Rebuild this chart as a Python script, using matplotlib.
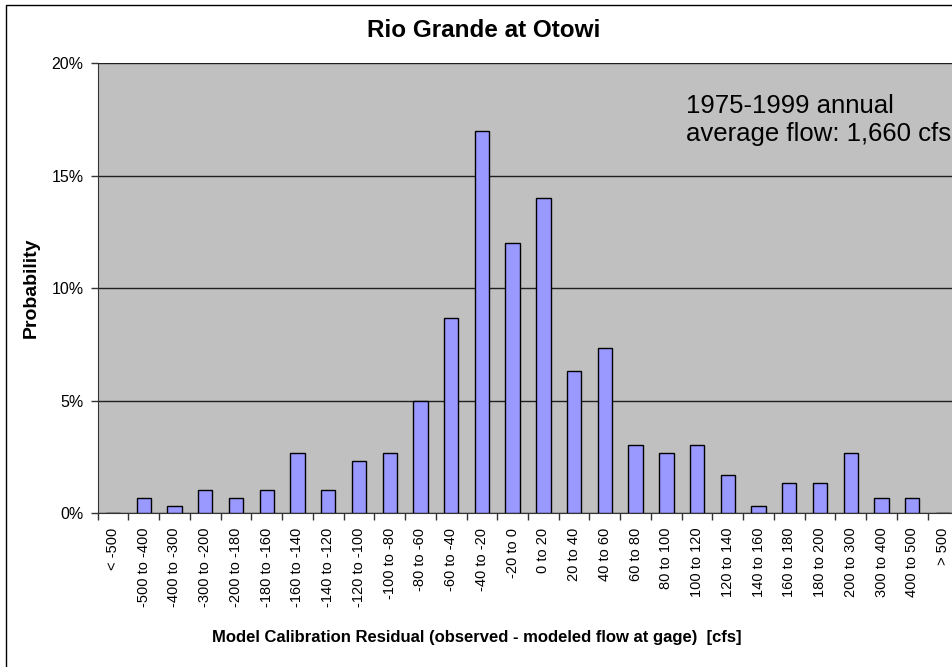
import matplotlib
matplotlib.use("Agg")
import matplotlib.pyplot as plt
import numpy as np
from matplotlib.patches import Rectangle
from matplotlib.ticker import FuncFormatter, FixedLocator

plt.rcParams['font.family'] = ['Liberation Sans', 'DejaVu Sans']

categories = ["< -500", "-500 to -400", "-400 to -300", "-300 to -200", "-200 to -180",
              "-180 to -160", "-160 to -140", "-140 to -120", "-120 to -100", "-100 to -80",
              "-80 to -60", "-60 to -40", "-40 to -20", "-20 to 0", "0 to 20", "20 to 40",
              "40 to 60", "60 to 80", "80 to 100", "100 to 120", "120 to 140", "140 to 160",
              "160 to 180", "180 to 200", "200 to 300", "300 to 400", "400 to 500", "> 500"]
probability = [0.0, 0.67, 0.33, 1.0, 0.67, 1.0, 2.67, 1.0, 2.33, 2.67,
               5.0, 8.67, 17.0, 12.0, 14.0, 6.33, 7.33, 3.0, 2.67, 3.0,
               1.67, 0.33, 1.33, 1.33, 2.67, 0.67, 0.67, 0.0]
yticks = [0, 5, 10, 15, 20]

fig = plt.figure(figsize=(9.53, 6.67), dpi=100)
fig.patch.set_facecolor('white')
fig.patches.append(Rectangle((6/953, -0.1), 2.0, (667-5)/667 + 0.1, transform=fig.transFigure,
                             fill=False, edgecolor='black', linewidth=1.0, zorder=0))

ax = fig.add_axes([0.1024, 0.2309, 1.0057 - 0.1024, 0.9055 - 0.2309])
ax.set_facecolor('#C0C0C0')
x = np.arange(len(categories))
ax.bar(x, probability, width=0.465, color='#9999FF', edgecolor='black', linewidth=1.0, zorder=3)

ax.set_ylim(0, 20)
ax.set_xlim(-0.5, len(categories) - 0.5)
ax.set_yticks(yticks)
ax.yaxis.set_major_formatter(FuncFormatter(lambda v, p: f"{int(v)}%"))
ax.grid(axis='y', color='#202020', linewidth=1.0, zorder=1)

ax.set_xticks(x)
ax.set_xticklabels(categories, rotation=90, fontsize=10.5)
ax.xaxis.set_minor_locator(FixedLocator(np.arange(len(categories) + 1) - 0.5))
ax.tick_params(axis='x', which='major', length=0, pad=10.5)
ax.tick_params(axis='x', which='minor', length=5, width=1, color='#333333', direction='out')
ax.tick_params(axis='y', length=5, width=1, color='#333333', labelsize=11.5, pad=5)

for s in ['top', 'right']:
    ax.spines[s].set_visible(False)
ax.spines['left'].set_color('#333333')
ax.spines['bottom'].set_color('#333333')

fig.text(0.508, 0.955, "Rio Grande at Otowi", ha='center', va='center', fontsize=17.5, fontweight='bold')
fig.text(0.5, 0.044, "Model Calibration Residual (observed - modeled flow at gage)  [cfs]",
         ha='center', va='center', fontsize=12, fontweight='bold')
fig.text(0.0325, 0.568, "Probability", ha='center', va='center', rotation=90, fontsize=14, fontweight='bold')
ax.text(686/953, 0.859, "1975-1999 annual\naverage flow: 1,660 cfs", transform=fig.transFigure,
        ha='left', va='top', fontsize=18.5, linespacing=1.2, clip_on=False)

fig.savefig("out.png", dpi=100)
